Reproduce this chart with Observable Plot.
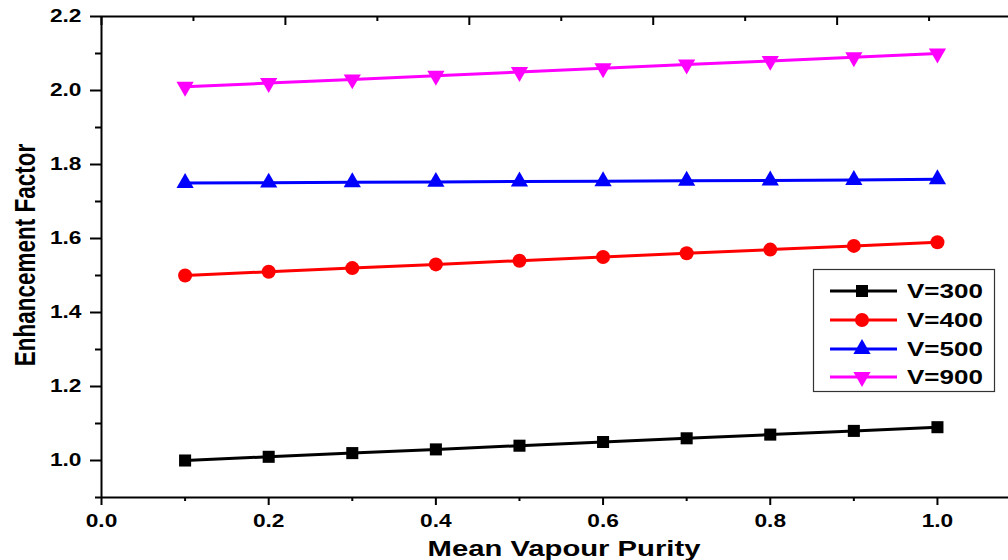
<!DOCTYPE html>
<html>
<head>
<meta charset="utf-8">
<script src="https://cdn.jsdelivr.net/npm/d3@7"></script>
<script src="https://cdn.jsdelivr.net/npm/@observablehq/plot@0.6"></script>
<style>
  html, body { margin: 0; padding: 0; background: #fff; }
  #chart { position: relative; width: 1008px; height: 560px; overflow: hidden; }
</style>
</head>
<body>
<div id="chart"></div>
<script>
// ---- data ----
const purity = [0.1, 0.2, 0.3, 0.4, 0.5, 0.6, 0.7, 0.8, 0.9, 1.0];
const v300 = [1.00, 1.01, 1.02, 1.03, 1.04, 1.05, 1.06, 1.07, 1.08, 1.09];
const v400 = [1.50, 1.51, 1.52, 1.53, 1.54, 1.55, 1.56, 1.57, 1.58, 1.59];
const v500 = [1.750, 1.751, 1.752, 1.753, 1.754, 1.755, 1.756, 1.757, 1.758, 1.760];
const v900 = [2.01, 2.02, 2.03, 2.04, 2.05, 2.06, 2.07, 2.08, 2.09, 2.10];
const seriesNames = ["V=300", "V=400", "V=500", "V=900"];
const seriesValues = [v300, v400, v500, v900];
const seriesColors = ["#000000", "#ff0000", "#0000ff", "#ff00ff"];
const seriesRadius = [6.8, 7, 6.4, 6.4];
const xMajor = [0, 0.2, 0.4, 0.6, 0.8, 1.0];
const xMinor = [0.1, 0.3, 0.5, 0.7, 0.9];
const topMajor = [0, 0.22, 0.44, 0.66, 0.88];
const topMinor = [0.11, 0.33, 0.55, 0.77, 0.99];
const yMajor = [1.0, 1.2, 1.4, 1.6, 1.8, 2.0, 2.2];
const yMinor = [0.9, 1.1, 1.3, 1.5, 1.7, 1.9, 2.1];
const xDomain = [0, 1.085];
const yDomain = [0.9, 2.2];
const xTitle = "Mean Vapour Purity";
const yTitle = "Enhancement Factor";

const triangleDown = {
  draw(context, size) {
    const y = -Math.sqrt(size / (Math.sqrt(3) * 3));
    context.moveTo(0, -y * 2);
    context.lineTo(-Math.sqrt(3) * y, y);
    context.lineTo(Math.sqrt(3) * y, y);
    context.closePath();
  }
};
const seriesSymbols = [d3.symbolSquare, d3.symbolCircle, d3.symbolTriangle, triangleDown];

const data = seriesNames.flatMap((name, s) =>
  purity.map((p, i) => ({series: name, x: p, y: seriesValues[s][i], r: seriesRadius[s]})));

const FONT = "'Liberation Sans', Arial, sans-serif";
const fmt = d3.format(".1f");
const blank = () => "";

const chart = Plot.plot({
  width: 1008,
  height: 560,
  marginLeft: 101,
  marginRight: 0,
  marginTop: 16,
  marginBottom: 63,
  style: {fontFamily: FONT, fontWeight: "bold", fontSize: "17.5px", color: "#000", background: "#fff"},
  x: {domain: xDomain},
  y: {domain: yDomain},
  color: {domain: seriesNames, range: seriesColors},
  symbol: {domain: seriesNames, range: seriesSymbols},
  r: {type: "identity"},
  marks: [
    Plot.axisY({ticks: yMajor, tickSize: 11, tickPadding: 9, tickFormat: fmt, label: null, strokeWidth: 2, fontSize: 17.5}),
    Plot.axisY({ticks: yMinor, tickSize: 6, tickFormat: blank, label: null, strokeWidth: 2}),
    Plot.axisX({ticks: xMajor, tickSize: 8, tickPadding: 9, tickFormat: fmt, label: null, strokeWidth: 2, fontSize: 17.5}),
    Plot.axisX({ticks: xMinor, tickSize: 4, tickFormat: blank, label: null, strokeWidth: 2}),
    Plot.axisX({anchor: "top", ticks: topMajor, tickSize: -8, tickFormat: blank, label: null, strokeWidth: 2}),
    Plot.axisX({anchor: "top", ticks: topMinor, tickSize: -4, tickFormat: blank, label: null, strokeWidth: 2}),
    Plot.ruleX([xDomain[0]], {strokeWidth: 2}),
    Plot.ruleY([yDomain[0]], {strokeWidth: 2}),
    Plot.ruleY([yDomain[1]], {strokeWidth: 2}),
    Plot.line(data, {x: "x", y: "y", z: "series", stroke: "series", strokeWidth: 3}),
    Plot.dot(data, {x: "x", y: "y", fill: "series", symbol: "series", r: "r", stroke: "none"}),
    Plot.text([xTitle], {frameAnchor: "bottom", lineAnchor: "bottom", textAnchor: "middle", dy: 58, dx: 9, fontSize: 22.5}),
    Plot.text([yTitle], {frameAnchor: "left", textAnchor: "middle", rotate: -90, lineAnchor: "bottom", dx: -67, dy: -2, fontSize: 22.5})
  ]
});

// ---- legend ----
const svg = d3.select(chart);
const lg = svg.append("g").attr("class", "legend");
lg.append("rect").attr("x", 813.5).attr("y", 269.5).attr("width", 181).attr("height", 122)
  .attr("fill", "#fff").attr("stroke", "#333").attr("stroke-width", 1.2);
const rowY = [291, 320, 349, 377];
seriesNames.forEach((name, s) => {
  const y = rowY[s];
  lg.append("line").attr("x1", 830).attr("x2", 897).attr("y1", y).attr("y2", y)
    .attr("stroke", seriesColors[s]).attr("stroke-width", 3);
  lg.append("path").attr("transform", `translate(862,${y})`)
    .attr("d", d3.symbol(seriesSymbols[s], Math.PI * seriesRadius[s] ** 2)())
    .attr("fill", seriesColors[s]);
  lg.append("text").attr("transform", `translate(907,${y + 7})`)
    .attr("text-anchor", "start")
    .attr("font-size", 20).attr("font-weight", "bold").attr("font-family", FONT)
    .attr("fill", "#000").text(name);
});

// ---- horizontal stretch of glyphs, as in the reference ----
const S = 1.3;
svg.selectAll("text").each(function () {
  const el = this;
  const t = el.getAttribute("transform") || "";
  const xa = parseFloat(el.getAttribute("x")) || 0;
  const ya = parseFloat(el.getAttribute("y")) || 0;
  const rotated = /rotate\(\s*-?90/.test(t);
  const sc = rotated ? `scale(1,${S})` : `scale(${S},1)`;
  const extra = (xa || ya) ? ` translate(${xa},${ya}) ${sc} translate(${-xa},${-ya})` : ` ${sc}`;
  el.setAttribute("transform", t + extra);
});

document.getElementById("chart").appendChild(chart);
</script>
</body>
</html>
